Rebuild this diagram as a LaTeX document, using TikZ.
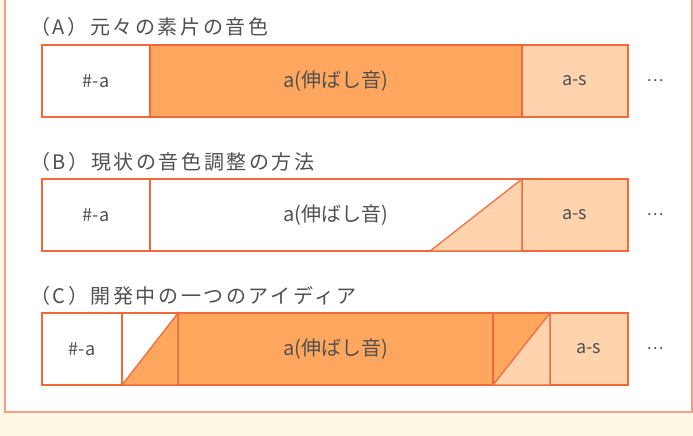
\documentclass[tikz,border=0pt]{standalone}
\usepackage{fontspec}
\setmainfont{Noto Sans CJK JP}
\usetikzlibrary{positioning}
\definecolor{edge}{HTML}{F2683A}
\definecolor{deep}{HTML}{FFA75E}
\definecolor{pale}{HTML}{FFD3AD}
\definecolor{framec}{HTML}{F2A283}
\definecolor{cream}{HTML}{FEF7E3}
\definecolor{ink}{HTML}{505050}
\newcommand{\longa}{{\fontsize{20}{22}\selectfont a(伸ばし音)}}
\tikzset{
  seg/.style={draw=edge, line width=1.2pt, minimum height=72pt, inner sep=0pt,
    outer sep=0pt, anchor=north west, text=ink, font=\fontsize{18}{20}\selectfont},
  tri/.style={draw=edge, line width=1.2pt, line join=miter},
  ttl/.style={anchor=west, inner sep=0pt, text=ink,
    font=\fontsize{20}{22}\selectfont\addfontfeature{LetterSpace=13}},
  more/.style={text=ink, inner sep=0pt, font=\fontsize{16}{19}\selectfont}
}
\begin{document}
\begin{tikzpicture}[x=1pt, y=-1pt]
  \useasboundingbox (0,0) rectangle (693,436);
  \clip (0,0) rectangle (693,436);
  \fill[cream] (0,0) rectangle (693,436);
  \draw[framec, line width=2pt, fill=white] (5,-10) rectangle (692,412);

  % (A)
  \node[ttl] (ta) at (30,27) {（A）元々の素片の音色};
  \node[seg, fill=white, minimum width=108pt] (a1) at (42,45) {\#-a};
  \node[seg, fill=deep, minimum width=372pt] (a2) at (150,45) {\longa};
  \node[seg, fill=pale, minimum width=106pt] (a3) at (522,45) {a-s};
  \node[more] (da) at (655,81) {…};

  % (B)
  \node[ttl] (tb) at (30,162) {（B）現状の音色調整の方法};
  \node[seg, fill=white, minimum width=108pt] (b1) at (42,179) {\#-a};
  \node[seg, fill=white, minimum width=372pt] (b2) at (150,179) {\longa};
  \node[seg, fill=pale, minimum width=106pt] (b3) at (522,179) {a-s};
  \node[more] (db) at (655,215) {…};
  \coordinate (bx) at (430,251);
  \filldraw[tri, fill=pale] (bx) -- (b2.north east) -- (b2.south east) -- cycle;

  % (C)
  \node[ttl] (tc) at (30,296) {（C）開発中の一つのアイディア};
  \node[seg, fill=white, minimum width=80pt] (c1) at (42,313) {\#-a};
  \node[seg, fill=white, minimum width=56pt] (c2) at (122,313) {};
  \node[seg, fill=deep, minimum width=315pt] (c3) at (178,313) {\longa};
  \node[seg, fill=deep, minimum width=57pt] (c4) at (493,313) {};
  \node[seg, fill=pale, minimum width=78pt] (c5) at (550,313) {a-s};
  \node[more] (dc) at (655,349) {…};
  \filldraw[tri, fill=deep] (c2.south west) -- (c2.north east) -- (c2.south east) -- cycle;
  \filldraw[tri, fill=pale] (c4.south west) -- (c4.north east) -- (c4.south east) -- cycle;
\end{tikzpicture}
\end{document}
